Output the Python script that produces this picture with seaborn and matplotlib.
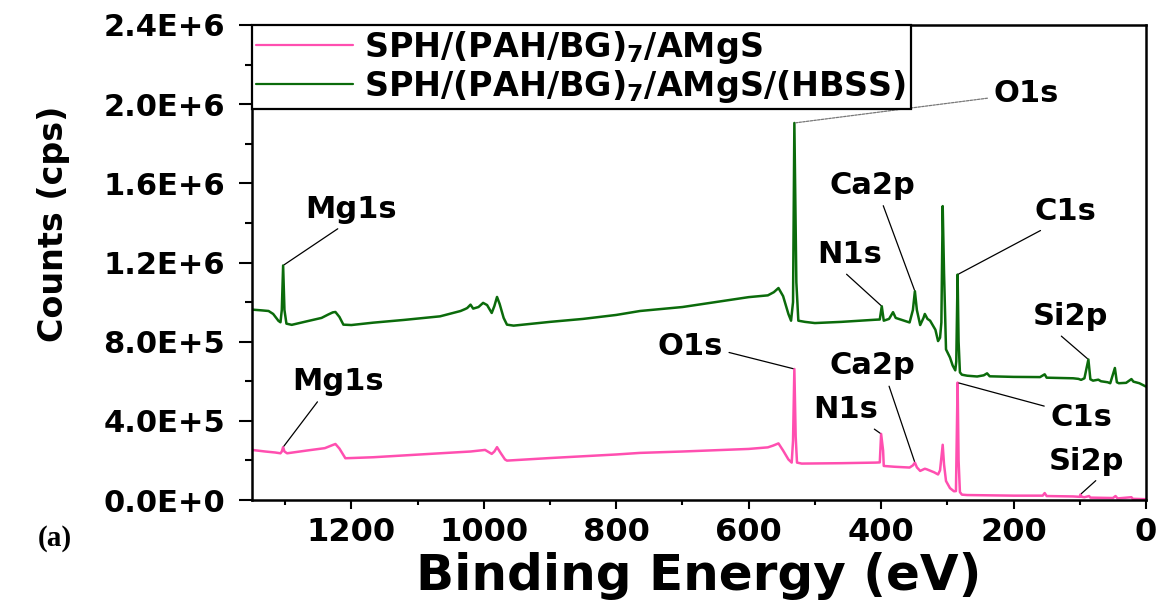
import numpy as np
import pandas as pd
import matplotlib
matplotlib.use("Agg")
import matplotlib.pyplot as plt
from matplotlib import font_manager as fm
from matplotlib.ticker import MultipleLocator, FuncFormatter
import seaborn as sns

# ---------------- survey spectra (binding energy in eV, counts in cps) ----------------
energy_amgs = [1350, 1330, 1315, 1307, 1305, 1303, 1301, 1297, 1267, 1240, 1228, 1224, 1218,
               1209, 1200, 1167, 1066, 1020, 998, 988, 984, 980, 975, 968, 965, 900, 800, 764,
               700, 600, 571, 563, 555, 548, 540, 535, 533, 531, 529, 527, 520, 460, 408, 402,
               400, 397, 396, 380, 357, 352, 349, 346, 341, 334, 331, 320, 314, 311, 307, 305,
               302, 296, 290, 287, 284.5, 283, 281, 278, 270, 200, 156, 153, 150, 110, 100, 99,
               97, 93, 86, 84, 50, 46, 43, 22, 20, 0]
counts_amgs = [253e3, 245e3, 240e3, 236e3, 245e3, 267e3, 245e3, 236e3, 250e3, 262e3, 278e3,
               283e3, 260e3, 211e3, 212e3, 216e3, 236e3, 245e3, 253e3, 233e3, 245e3, 267e3,
               240e3, 205e3, 199e3, 212e3, 230e3, 238e3, 245e3, 258e3, 266e3, 275e3, 286e3,
               250e3, 205e3, 189e3, 300e3, 662e3, 320e3, 189e3, 184e3, 186e3, 189e3, 190e3,
               334e3, 250e3, 172e3, 168e3, 164e3, 175e3, 189e3, 165e3, 147e3, 158e3, 155e3,
               140e3, 129e3, 150e3, 279e3, 180e3, 96e3, 60e3, 44e3, 45e3, 593e3, 200e3, 40e3,
               27e3, 25e3, 22e3, 22e3, 35e3, 20e3, 18e3, 16e3, 28e3, 16e3, 14e3, 20e3, 12e3,
               10e3, 20e3, 8e3, 14e3, 6e3, 4e3]

energy_hbss = [1350, 1335, 1325, 1318, 1310, 1307, 1305, 1303, 1301, 1298, 1290, 1267, 1245,
               1235, 1228, 1224, 1218, 1212, 1200, 1167, 1120, 1066, 1035, 1028, 1025, 1020,
               1016, 1008, 1001, 995, 988, 984, 980, 976, 970, 965, 955, 900, 850, 800, 764,
               700, 650, 600, 571, 562, 555, 548, 540, 536, 533, 531, 528, 525, 515, 500, 460,
               408, 402, 399, 396, 388, 382, 378, 357, 352, 349, 346, 341, 336, 334, 330, 326,
               318, 314, 311, 309, 307, 305, 302, 296, 292, 288, 286.5, 284.5, 283, 281, 278,
               270, 255, 245, 240, 236, 200, 160, 153, 150, 110, 102, 98, 93, 87, 84, 80, 72,
               68, 58, 54, 47, 44, 41, 30, 22, 19, 10, 0]
counts_hbss = [962e3, 958e3, 955e3, 940e3, 905e3, 898e3, 960e3, 1185e3, 960e3, 891e3, 885e3,
               903e3, 920e3, 937e3, 948e3, 950e3, 925e3, 886e3, 884e3, 896e3, 910e3, 928e3,
               955e3, 965e3, 970e3, 987e3, 967e3, 975e3, 996e3, 985e3, 945e3, 980e3, 1026e3,
               990e3, 920e3, 886e3, 881e3, 900e3, 915e3, 935e3, 955e3, 975e3, 1000e3, 1025e3,
               1034e3, 1050e3, 1071e3, 1030e3, 940e3, 906e3, 1000e3, 1905e3, 1100e3, 906e3,
               900e3, 894e3, 900e3, 911e3, 912e3, 979e3, 906e3, 915e3, 949e3, 920e3, 897e3,
               960e3, 1055e3, 960e3, 884e3, 920e3, 940e3, 915e3, 906e3, 860e3, 803e3, 820e3,
               897e3, 1485e3, 1150e3, 761e3, 720e3, 680e3, 655e3, 700e3, 1139e3, 800e3, 645e3,
               633e3, 628e3, 624e3, 630e3, 640e3, 625e3, 622e3, 621e3, 635e3, 618e3, 615e3,
               612e3, 607e3, 615e3, 710e3, 610e3, 603e3, 608e3, 600e3, 595e3, 590e3, 667e3,
               595e3, 590e3, 592e3, 611e3, 598e3, 590e3, 573e3]

series_labels = ["SPH/(PAH/BG)$_7$/AMgS", "SPH/(PAH/BG)$_7$/AMgS/(HBSS)"]
series_colors = ["#ff4fb0", "#0b6b0b"]

y_ticks = [0, 4e5, 8e5, 1.2e6, 1.6e6, 2.0e6, 2.4e6]
x_ticks = [1200, 1000, 800, 600, 400, 200, 0]

df = pd.concat([
    pd.DataFrame({"Binding Energy": energy_amgs, "Counts": counts_amgs, "Sample": series_labels[0]}),
    pd.DataFrame({"Binding Energy": energy_hbss, "Counts": counts_hbss, "Sample": series_labels[1]}),
], ignore_index=True)

# ---------------- styling ----------------
sns.set_style("ticks")
names = {f.name for f in fm.fontManager.ttflist}
narrow = "Liberation Sans Narrow" if "Liberation Sans Narrow" in names else "DejaVu Sans"
serif = "Liberation Serif" if "Liberation Serif" in names else "DejaVu Serif"
plt.rcParams.update({
    "font.family": ["DejaVu Sans"],
    "font.weight": "bold",
    "mathtext.default": "bf",
    "text.color": "black",
    "axes.labelcolor": "black",
    "xtick.color": "black",
    "ytick.color": "black",
    "axes.edgecolor": "black",
})

fig = plt.figure(figsize=(11.66, 6.04), dpi=100)
ax = fig.add_axes([252 / 1166, 1 - 500 / 604, 894 / 1166, 475 / 604])

sns.lineplot(data=df, x="Binding Energy", y="Counts", hue="Sample",
             hue_order=series_labels, palette=series_colors, sort=False,
             estimator=None, linewidth=1.8, ax=ax)

ax.set_xlim(1350, 0)
ax.set_ylim(0, 2.4e6)
ax.set_xticks(x_ticks)
ax.set_yticks(y_ticks)
ax.xaxis.set_minor_locator(MultipleLocator(100))
ax.yaxis.set_minor_locator(MultipleLocator(2e5))


def sci(v, _pos):
    if v == 0:
        return "0.0E+0"
    e = int(np.floor(np.log10(abs(v)) + 1e-9))
    return f"{v / 10 ** e:.1f}E+{e}"


ax.yaxis.set_major_formatter(FuncFormatter(sci))

for s in ax.spines.values():
    s.set_linewidth(1.8)
    s.set_color("black")
ax.tick_params(axis="x", which="major", direction="out", length=6.5, width=1.5,
               labelsize=23, pad=6)
ax.tick_params(axis="x", which="minor", direction="out", length=3.5, width=1.5)
ax.tick_params(axis="y", which="major", direction="out", length=9.5, width=1.5,
               labelsize=22, pad=10)
ax.tick_params(axis="y", which="minor", direction="out", length=5, width=1.5)
for lab in ax.get_xticklabels() + ax.get_yticklabels():
    lab.set_fontweight("bold")

ax.set_xlabel("Binding Energy (eV)", fontsize=36, fontweight="bold")
ax.xaxis.set_label_coords(0.5, -0.11)
ax.set_ylabel("Counts (cps)", fontsize=31 if narrow != "DejaVu Sans" else 24,
              fontweight="bold", family=[narrow, "DejaVu Sans"])
ax.yaxis.set_label_coords(-0.204, 0.581)

# legend in the upper-left corner
handles, labels = ax.get_legend_handles_labels()
leg = ax.legend(handles, labels, loc="upper left", bbox_to_anchor=(0, 1),
                borderaxespad=0, frameon=True, fancybox=False, framealpha=1,
                edgecolor="black", handlelength=2.9, handletextpad=0.35,
                borderpad=0.12, labelspacing=0.05,
                prop={"weight": "bold", "size": 24})
leg.get_frame().set_linewidth(1.6)
for h in leg.get_lines():
    h.set_linewidth(1.6)

# peak labels
amgs = dict(zip(energy_amgs, counts_amgs))
hbss = dict(zip(energy_hbss, counts_hbss))

notes = [
    # text, spectrum, peak energy, text position (eV, cps), leader start in text box
    ("Mg1s", hbss, 1303, (1200, 1.468e6), (0.43, 0.0)),
    ("O1s", hbss, 531, (181, 2.056e6), (0.0, 0.35)),
    ("Ca2p", hbss, 349, (413, 1.59e6), (0.6, 0.0)),
    ("N1s", hbss, 399, (447, 1.24e6), (0.36, 0.0)),
    ("C1s", hbss, 284.5, (122, 1.458e6), (0.24, 0.0)),
    ("Si2p", hbss, 87, (114, 0.927e6), (0.3, 0.0)),
    ("Mg1s", amgs, 1303, (1220, 0.597e6), (0.32, 0.0)),
    ("O1s", amgs, 531, (688, 0.775e6), (1.0, 0.35)),
    ("Ca2p", amgs, 349, (413, 0.678e6), (0.67, 0.0)),
    ("N1s", amgs, 400, (453, 0.456e6), (0.83, 0.0)),
    ("C1s", amgs, 284.5, (98, 0.415e6), (0.0, 0.85)),
    ("Si2p", amgs, 99, (90, 0.197e6), (0.7, 0.0)),
]
for i, (txt, spec, pe, tpos, rp) in enumerate(notes):
    dotted = (i == 1)
    ax.annotate(txt, xy=(pe, spec[pe]), xytext=tpos, textcoords="data",
                ha="center", va="center", fontsize=22, fontweight="bold",
                arrowprops=dict(arrowstyle="-", color="#777777" if dotted else "black",
                                lw=0.9, ls=(0, (2, 1)) if dotted else "-",
                                relpos=rp, shrinkA=2, shrinkB=1))

fig.text(55 / 1166, 1 - 539 / 604, "(a)", fontsize=21, fontweight="bold",
         family=[serif, "DejaVu Serif"], ha="center", va="center")

fig.savefig("out.png", dpi=100)
